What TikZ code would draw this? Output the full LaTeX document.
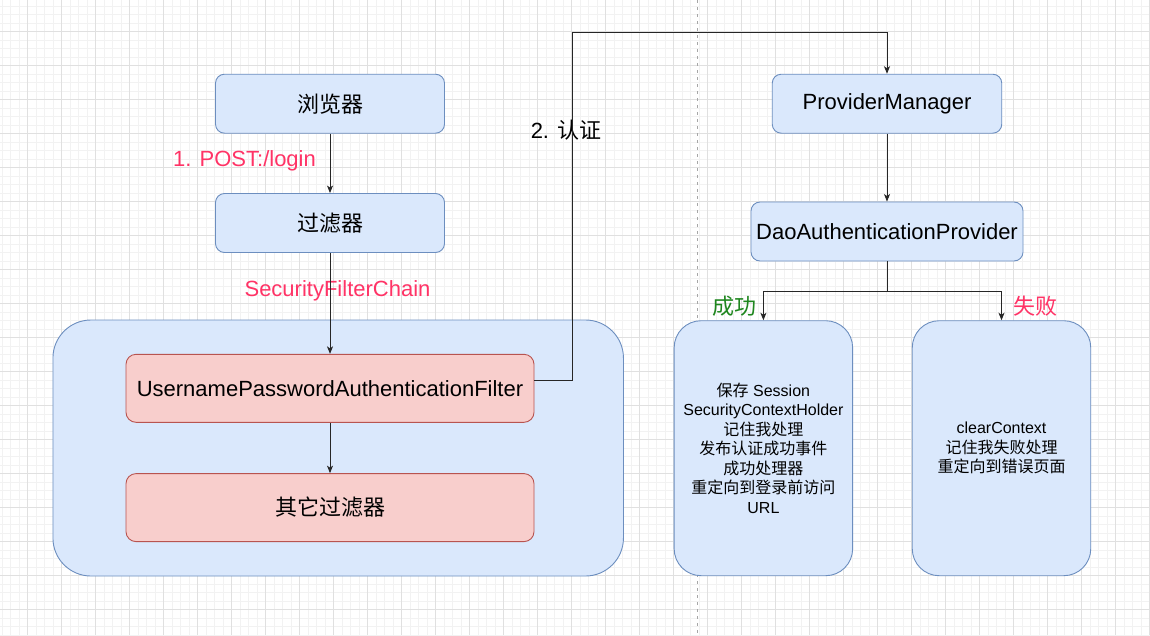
\documentclass[tikz,border=0pt]{standalone}
\usepackage{fontspec}
\setmainfont{Liberation Sans}
\newfontfamily\cjk{Noto Sans CJK SC}
\usetikzlibrary{arrows.meta}
\definecolor{bfill}{HTML}{DAE8FC}
\definecolor{bdraw}{HTML}{6C8EBF}
\definecolor{rfill}{HTML}{F8CECC}
\definecolor{rdraw}{HTML}{B85450}
\definecolor{redtxt}{HTML}{FF3366}
\definecolor{greentxt}{HTML}{1E861E}
\definecolor{gridminor}{HTML}{F2F2F2}
\definecolor{gridmajor}{HTML}{E0E0E0}
\newcommand{\zhtxt}[1]{{\cjk #1}}
\tikzset{
  bluebox/.style={draw=bdraw, fill=bfill, line width=0.9pt, rounded corners=9pt,
    minimum width=229pt, minimum height=59pt, inner sep=0pt,
    font=\fontsize{22}{26}\selectfont},
  redbox/.style={draw=rdraw, fill=rfill, line width=0.9pt, rounded corners=10pt,
    minimum width=408pt, minimum height=68pt, inner sep=0pt,
    font=\fontsize{22}{26}\selectfont},
  tallbox/.style={draw=bdraw, fill=bfill, line width=0.9pt, rounded corners=27pt,
    minimum width=178.5pt, minimum height=255pt, inner sep=0pt, align=center,
    font=\fontsize{16}{19.5}\selectfont},
  conn/.style={draw=black!85, line width=0.9pt, -{Stealth[length=7.5pt,width=6pt,inset=2pt]}},
  lbl/.style={inner sep=0pt, font=\fontsize{22}{26}\selectfont},
}
\begin{document}
\begin{tikzpicture}[x={(1pt,0)}, y={(0,-1pt)}]
\useasboundingbox (0,0) rectangle (1150,635);
\fill[white] (0,0) rectangle (1150,635);
% grid
\foreach \i in {0,...,135} {
  \draw[gridminor, line width=0.6pt] (1.8+8.5*\i,0) -- (1.8+8.5*\i,635);
}
\foreach \i in {0,...,75} {
  \draw[gridminor, line width=0.6pt] (0,6.2+8.5*\i) -- (1150,6.2+8.5*\i);
}
\foreach \i in {0,...,33} {
  \draw[gridmajor, line width=0.7pt] (27.3+34*\i,0) -- (27.3+34*\i,635);
}
\foreach \i in {0,...,18} {
  \draw[gridmajor, line width=0.7pt] (0,31.7+34*\i) -- (1150,31.7+34*\i);
}
% vertical dashed separator
\coordinate (septop) at (697.7,0);
\coordinate (sepbot) at (697.7,635);
\draw[black!35, line width=0.8pt, dash pattern=on 3pt off 4pt] (septop) -- (sepbot);

% container
\node[draw=bdraw, fill=bfill, line width=0.9pt, rounded corners=38pt,
  minimum width=570.5pt, minimum height=256pt, inner sep=0pt] (chain) at (338.2,448) {};

% nodes
\node[bluebox] (browser) at (330,103.7) {\zhtxt{浏览器}};
\node[bluebox] (filter) at (330,223) {\zhtxt{过滤器}};
\node[redbox] (upaf) at (330,388.3) {UsernamePasswordAuthenticationFilter};
\node[redbox] (other) at (330,507.6) {\zhtxt{其它过滤器}};
\node[bluebox, minimum width=229.5pt] (pm) at (887,103.7) {ProviderManager};
\node[bluebox, minimum width=272pt] (dap) at (887,231.5) {DaoAuthenticationProvider};
\node[tallbox] (succ) at (763.4,448.2) {\zhtxt{保存} Session\\SecurityContextHolder\\\zhtxt{记住我处理}\\\zhtxt{发布认证成功事件}\\\zhtxt{成功处理器}\\\zhtxt{重定向到登录前访问}\\URL};
\node[tallbox] (fail) at (1001.5,448.2) {clearContext\\\zhtxt{记住我失败处理}\\\zhtxt{重定向到错误页面}};

% labels
\node[lbl, text=redtxt] (postlbl) at (244.5,160.5) {1. POST:/login};
\node[lbl, text=redtxt] (sfclbl) at (337.5,291) {SecurityFilterChain};
\node[lbl] (authlbl) at (566,130) {2. \zhtxt{认证}};
\node[lbl, text=greentxt] (oklbl) at (734.5,306) {\zhtxt{成功}};
\node[lbl, text=redtxt] (faillbl) at (1035,306) {\zhtxt{失败}};

% connectors
\coordinate (bendA) at (572,32);
\coordinate (split) at (887,291);
\draw[conn] (browser.south) -- (filter.north);
\draw[conn] (filter.south) -- (upaf.north);
\draw[conn] (upaf.south) -- (other.north);
\draw[conn] ([yshift=8pt]upaf.east) -| (bendA) -| (pm.north);
\draw[conn] (pm.south) -- (dap.north);
\draw[conn] (dap.south) -- (split) -| (succ.north);
\draw[conn] (split) -| (fail.north);
\end{tikzpicture}
\end{document}
